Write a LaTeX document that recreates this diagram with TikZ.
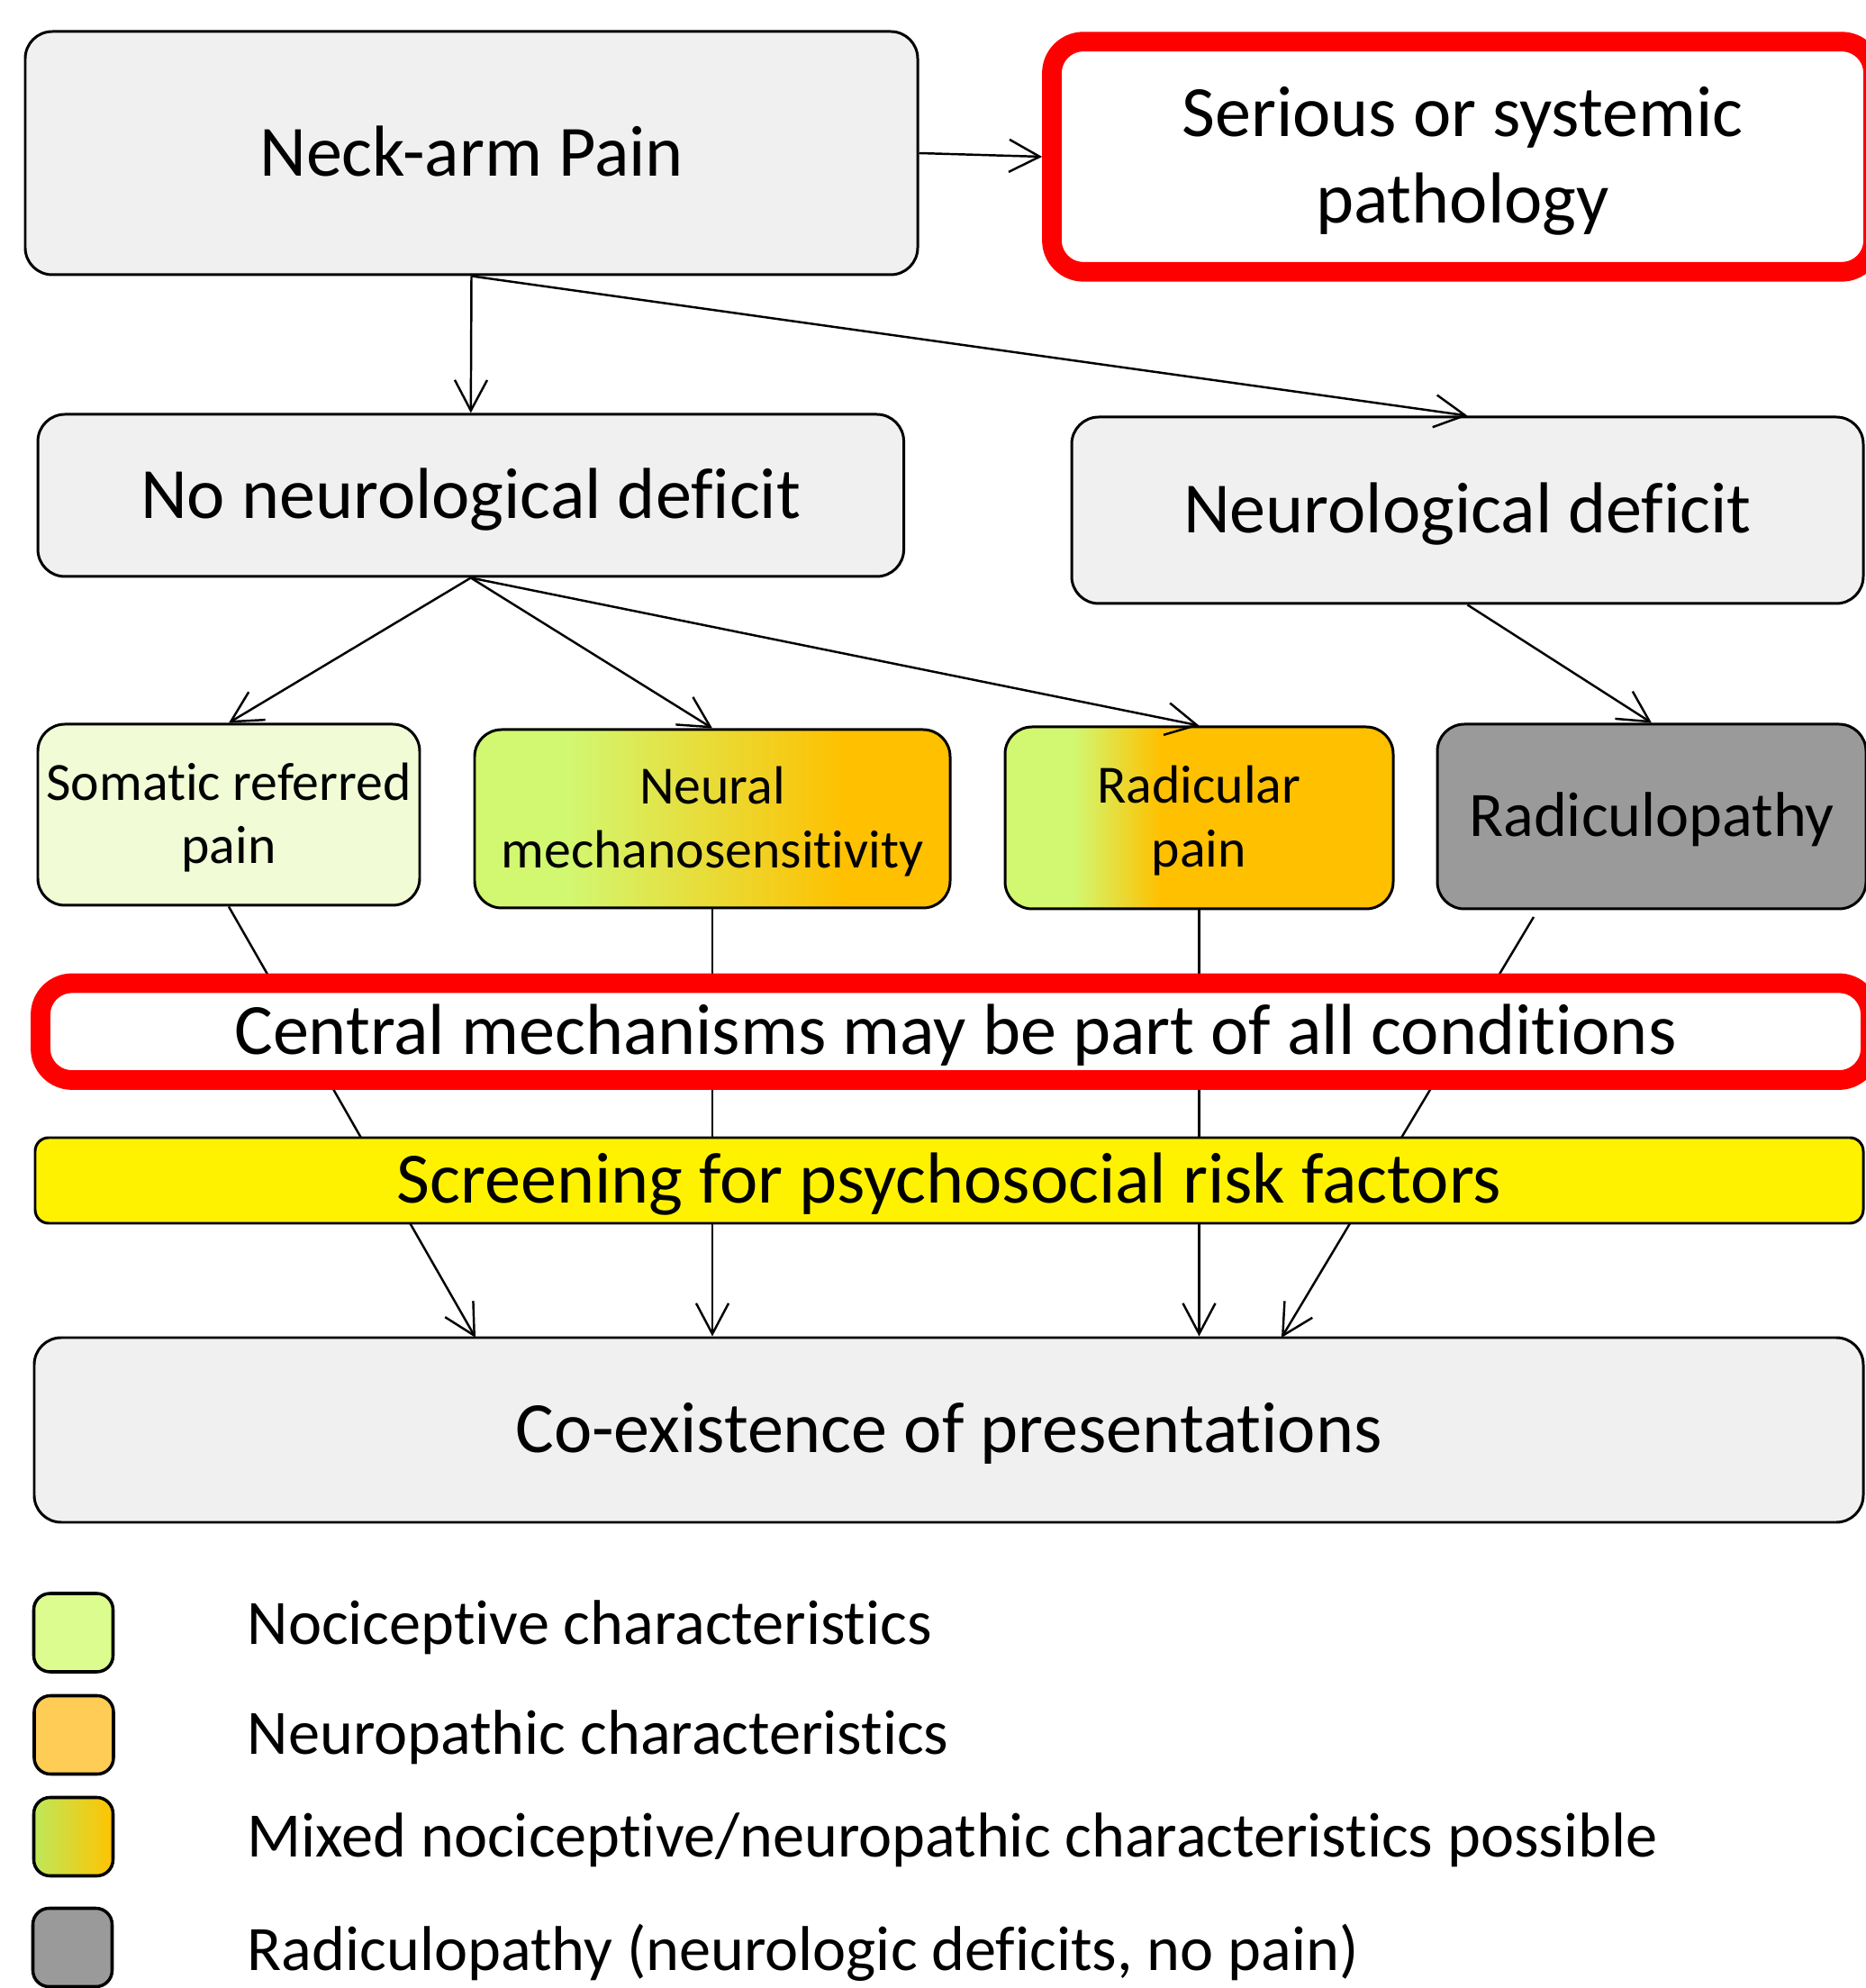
\documentclass[tikz,border=0pt]{standalone}
\usepackage{fontspec}
\setmainfont{Carlito}[Ligatures=NoCommon]
\usetikzlibrary{arrows.meta}

\definecolor{boxgray}{RGB}{240,240,240}
\definecolor{somaticgreen}{RGB}{241,251,214}
\definecolor{nocigreen}{RGB}{210,247,112}
\definecolor{neuroorange}{RGB}{255,192,0}
\definecolor{radicgray}{RGB}{154,154,154}
\definecolor{legnoci}{RGB}{220,252,143}
\definecolor{legneuro}{RGB}{255,204,85}
\definecolor{legmixleft}{RGB}{190,232,90}
\definecolor{legmixright}{RGB}{255,195,0}

\pgfdeclarehorizontalshading{neuralmix}{100bp}{color(0bp)=(nocigreen); color(35bp)=(nocigreen); color(64bp)=(neuroorange); color(100bp)=(neuroorange)}
\pgfdeclarehorizontalshading{radicularmix}{100bp}{color(0bp)=(nocigreen); color(34bp)=(nocigreen); color(45bp)=(neuroorange); color(100bp)=(neuroorange)}
\pgfdeclarehorizontalshading{legendmix}{100bp}{color(0bp)=(legmixleft); color(25bp)=(legmixleft); color(75bp)=(legmixright); color(100bp)=(legmixright)}

\tikzset{
  box/.style={draw, line width=0.85pt, rounded corners=0.3cm, inner sep=0pt, align=center},
  redbox/.style={box, draw=red, line width=6.2pt, rounded corners=0.35cm, fill=white},
  bigtext/.style={font=\fontsize{22.8}{27.3}\selectfont, text height=14.4pt, text depth=0pt},
  bigtwo/.style={align=flush center, font=\fontsize{22.8}{27.3}\selectfont, text height=14.4pt, text depth=27.3pt},
  smalltwo/.style={align=flush center, font=\fontsize{17}{20}\selectfont, text height=10.75pt, text depth=20pt},
  arr/.style={-{Straight Barb[length=3.4mm,width=3.6mm]}, line width=0.7pt},
  legbox/.style={draw, line width=1pt, rounded corners=0.18cm, minimum width=0.88cm, minimum height=0.87cm},
  legtext/.style={anchor=base west, inner sep=0pt, font=\fontsize{20}{24}\selectfont}
}

\begin{document}
\begin{tikzpicture}
    \useasboundingbox (0,0) rectangle (20.71,22.07);

    \node[box, bigtext, fill=boxgray, minimum width=9.91cm, minimum height=2.70cm] (neck) at (5.235,20.37) {Neck-arm Pain};
    \node[redbox, bigtwo, text width=9cm, minimum width=9.12cm, minimum height=2.555cm] (serious) at (16.24,20.33) {Serious or systemic\\pathology};
    \draw[arr] (neck.east) -- (serious.west);

    \node[box, bigtext, fill=boxgray, minimum width=9.615cm, minimum height=1.80cm] (nodeficit) at (5.228,16.57) {No neurological deficit};
    \node[box, bigtext, fill=boxgray, minimum width=8.79cm, minimum height=2.07cm] (deficit) at (16.295,16.405) {Neurological deficit};
    \draw[arr] (neck.south) -- (nodeficit.north);
    \draw[arr] (neck.south) -- (deficit.north);

    \node[box, smalltwo, text width=4.2cm, fill=somaticgreen, minimum width=4.24cm, minimum height=2.01cm] (somatic) at (2.54,13.025) {Somatic referred\\pain};
    \node[box, smalltwo, text width=5.2cm, shade, shading=neuralmix, minimum width=5.28cm, minimum height=1.98cm] (neural) at (7.91,12.98) {Neural\\mechanosensitivity};
    \node[box, smalltwo, text width=4.2cm, shade, shading=radicularmix, minimum width=4.31cm, minimum height=2.02cm] (radicular) at (13.315,12.99) {Radicular\\pain};
    \node[box, font=\fontsize{20}{24}\selectfont, text height=12.6pt, text depth=0pt, fill=radicgray, minimum width=4.76cm, minimum height=2.05cm] (radiculo) at (18.34,13.005) {Radiculopathy};
    \draw[arr] (nodeficit.south) -- (somatic.north);
    \draw[arr] (nodeficit.south) -- (neural.north);
    \draw[arr] (nodeficit.south) -- (radicular.north);
    \draw[arr] (deficit.south) -- (radiculo.north);

    \node[box, bigtext, fill=boxgray, minimum width=20.31cm, minimum height=2.05cm] (coexist) at (10.535,6.195) {Co-existence of presentations};

    \coordinate (somatic end) at (5.28,7.22);
    \coordinate (radiculo start) at (17.03,11.89);
    \coordinate (radiculo end) at (14.23,7.22);
    \draw[arr] (somatic.south) -- (somatic end);
    \draw[arr] (neural.south) -- (neural.south |- coexist.north);
    \draw[arr] (radicular.south) -- (radicular.south |- coexist.north);
    \draw[arr] (radiculo start) -- (radiculo end);

    \node[redbox, bigtext, minimum width=20.32cm, minimum height=1.075cm] (central) at (10.61,10.6175) {Central mechanisms may be part of all conditions};
    \node[box, bigtext, fill=yellow, rounded corners=0.15cm, minimum width=20.30cm, minimum height=0.95cm] (screening) at (10.54,8.965) {Screening for psychosocial risk factors};

    \node[legbox, fill=legnoci] (leg noci) at (0.815,3.945) {};
    \node[legbox, fill=legneuro] (leg neuro) at (0.82,2.81) {};
    \node[legbox, shade, shading=legendmix] (leg mixed) at (0.815,1.68) {};
    \node[legbox, fill=radicgray] (leg radic) at (0.805,0.45) {};
    \node[legtext] (noci text) at (2.74,3.81) {Nociceptive characteristics};
    \node[legtext] (neuro text) at (2.74,2.59) {Neuropathic characteristics};
    \node[legtext] (mixed text) at (2.74,1.45) {Mixed nociceptive/neuropathic characteristics possible};
    \node[legtext] (radic text) at (2.74,0.19) {Radiculopathy (neurologic deficits, no pain)};
\end{tikzpicture}
\end{document}
